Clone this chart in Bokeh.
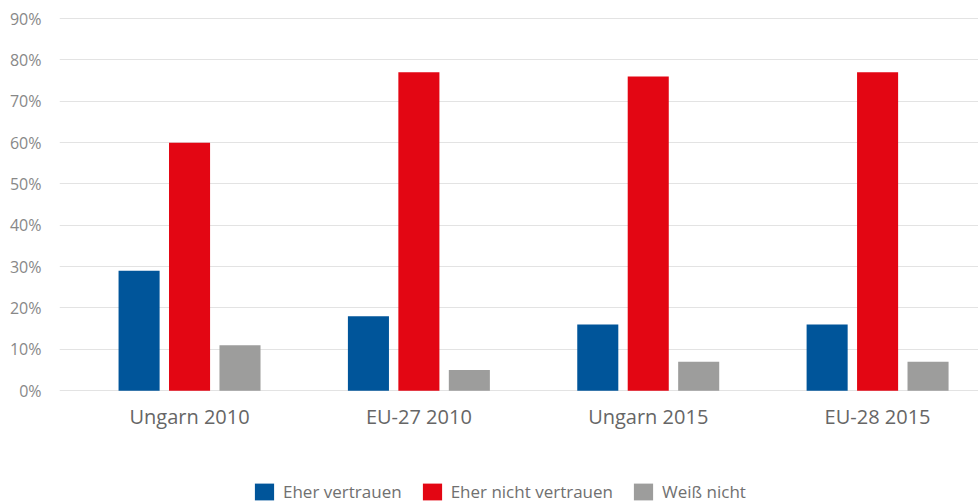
from bokeh.plotting import figure
from bokeh.models import ColumnDataSource, Range1d, FixedTicker, Legend, LegendItem, CustomJSTickFormatter
from bokeh.embed import file_html
from bokeh.resources import INLINE

categories = ["Ungarn 2010", "EU-27 2010", "Ungarn 2015", "EU-28 2015"]
series_names = ["Eher vertrauen", "Eher nicht vertrauen", "Weiß nicht"]
eher_vertrauen = [29, 18, 16, 16]
eher_nicht_vertrauen = [60, 77, 76, 77]
weiss_nicht = [11, 5, 7, 7]
y_ticks = [0, 10, 20, 30, 40, 50, 60, 70, 80, 90]

colors = ["#00559A", "#E30613", "#9D9D9C"]
offsets = [-0.22, 0.0, 0.22]
series = [eher_vertrauen, eher_nicht_vertrauen, weiss_nicht]

FONT = "Open Sans"

p = figure(width=978, height=503, output_backend="svg", toolbar_location=None,
           x_range=Range1d(-0.067, 3.94), y_range=Range1d(-27.3, 91),
           min_border_left=59, min_border_right=0, min_border_top=14, min_border_bottom=0)
p.outline_line_color = None
p.background_fill_color = "white"

centers = [i + 0.5 for i in range(len(categories))]
renderers = []
for vals, col, off in zip(series, colors, offsets):
    src = ColumnDataSource(dict(x=[c + off for c in centers], top=vals))
    r = p.vbar(x="x", top="top", bottom=0, width=0.179, source=src, fill_color=col, line_color=None)
    renderers.append(r)

p.xgrid.grid_line_color = None
p.ygrid.grid_line_color = "#e3e3e3"
p.ygrid.grid_line_width = 1

p.yaxis.ticker = FixedTicker(ticks=y_ticks)
p.yaxis.formatter = CustomJSTickFormatter(code="return tick.toFixed(0) + '%';")
p.yaxis.axis_line_color = None
p.yaxis.major_tick_line_color = None
p.yaxis.minor_tick_line_color = None
p.yaxis.major_label_text_font = FONT
p.yaxis.major_label_text_font_size = "16px"
p.yaxis.major_label_text_color = "#888888"
p.yaxis.major_label_standoff = 12

p.xaxis.fixed_location = 0
p.xaxis.ticker = FixedTicker(ticks=centers)
p.xaxis.major_label_overrides = {c: lab for c, lab in zip(centers, categories)}
p.xaxis.axis_line_color = None
p.xaxis.major_tick_line_color = None
p.xaxis.minor_tick_line_color = None
p.xaxis.major_label_text_font = FONT
p.xaxis.major_label_text_font_size = "20px"
p.xaxis.major_label_text_color = "#666666"
p.xaxis.major_label_standoff = 6

legend = Legend(items=[LegendItem(label=n, renderers=[r]) for n, r in zip(series_names, renderers)],
                orientation="horizontal", location=(193, 0),
                glyph_width=24, glyph_height=21, label_standoff=7, spacing=18,
                padding=0, margin=0, border_line_color=None, background_fill_alpha=0,
                label_text_font=FONT, label_text_font_size="17px", label_text_color="#707070")
p.add_layout(legend, "center")

open("out.html", "w").write(file_html(p, INLINE))
